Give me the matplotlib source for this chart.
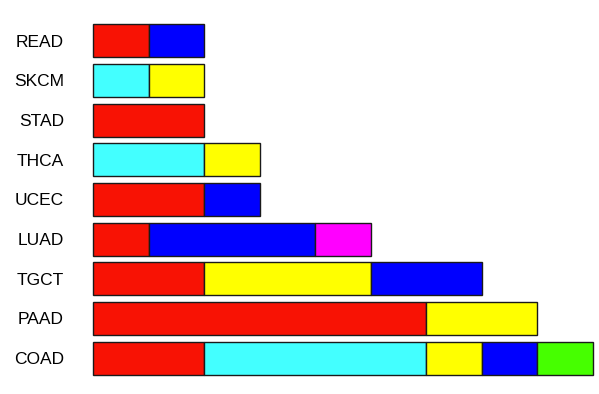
import matplotlib
matplotlib.use("Agg")
import matplotlib.pyplot as plt
import numpy as np

categories = ["READ", "SKCM", "STAD", "THCA", "UCEC", "LUAD", "TGCT", "PAAD", "COAD"]
red = [1, 0, 2, 0, 2, 1, 2, 6, 2]
cyan = [0, 1, 0, 2, 0, 0, 0, 0, 4]
yellow = [0, 1, 0, 1, 0, 0, 3, 2, 1]
blue = [1, 0, 0, 0, 1, 3, 2, 0, 1]
magenta = [0, 0, 0, 0, 0, 1, 0, 0, 0]
green = [0, 0, 0, 0, 0, 0, 0, 0, 1]

series = [
    (red, "#F81204"),
    (cyan, "#43FFFF"),
    (yellow, "#FFFF00"),
    (blue, "#0000FF"),
    (magenta, "#FF00FF"),
    (green, "#46FF00"),
]

plt.rcParams["font.family"] = ["Liberation Sans", "DejaVu Sans"]

fig = plt.figure(figsize=(5.99, 3.94), dpi=100)
ax = fig.add_axes([93 / 599, 0.0409, 500 / 599, 0.906])

y = np.arange(len(categories))
left = np.zeros(len(categories))
for vals, color in series:
    vals = np.array(vals, dtype=float)
    mask = vals > 0
    bars = ax.barh(y[mask], vals[mask], left=left[mask], height=0.83,
                   color=color, edgecolor="#1a1a1a", linewidth=1.0)
    for b in bars:
        b.set_clip_on(False)
    left += vals

ax.set_xlim(0, 9)
ax.set_ylim(len(categories) - 0.5, -0.5)
ax.set_yticks(y)
ax.set_yticklabels(categories, fontsize=12.5)
ax.tick_params(axis="y", length=0, pad=21)
ax.set_xticks([])
for s in ax.spines.values():
    s.set_visible(False)

fig.savefig("out.png", dpi=100)
